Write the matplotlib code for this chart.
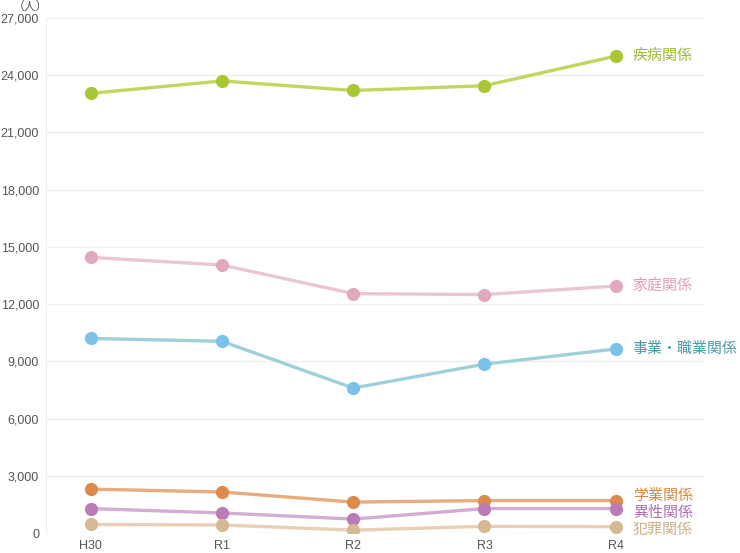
import numpy as np
import matplotlib.pyplot as plt
from matplotlib.ticker import FuncFormatter

plt.rcParams['font.family'] = ['Noto Sans CJK JP', 'DejaVu Sans']

# データ (人)
years = ['H30', 'R1', 'R2', 'R3', 'R4']
shippei = [23050, 23700, 23200, 23450, 25000]      # 疾病関係
katei = [14450, 14050, 12550, 12500, 12950]        # 家庭関係
jigyo = [10200, 10050, 7600, 8850, 9650]           # 事業・職業関係
gakugyo = [2300, 2150, 1620, 1700, 1700]           # 学業関係
isei = [1280, 1050, 730, 1280, 1280]               # 異性関係
hanzai = [450, 420, 150, 350, 330]                 # 犯罪関係

series = [
    ('疾病関係', shippei, '#c2d65e', '#a9c734', '#9cba35', 0),
    ('家庭関係', katei, '#e9c6d3', '#e1a9c0', '#df9fba', 0),
    ('事業・職業関係', jigyo, '#9fd0da', '#7cc2e8', '#4a9aa6', 0),
    ('学業関係', gakugyo, '#e9ab7e', '#dc8b4c', '#d9893f', 5),
    ('異性関係', isei, '#d3acd3', '#b97cb8', '#b06fb0', -4),
    ('犯罪関係', hanzai, '#e9d0b4', '#d5b994', '#ccb08a', -3),
]

fig = plt.figure(figsize=(7.4, 5.53), dpi=100)
ax = fig.add_axes([46 / 740, 20 / 553, 659 / 740, 515 / 553])

x = np.arange(len(years))
for name, vals, lc, mc, tc, dy in series:
    ax.plot(x, vals, color=lc, linewidth=2.4, zorder=2)
    ax.plot(x, vals, linestyle='none', marker='o', markersize=8.5,
            color=mc, zorder=3)
    ax.annotate(name, xy=(x[-1], vals[-1]), xytext=(17, dy),
                textcoords='offset pixels', ha='left', va='center',
                fontsize=10.8, color=tc, annotation_clip=False)

ax.set_xlim(-0.34, 4.68)
ax.set_ylim(0, 27000)
ax.set_yticks(np.arange(0, 27001, 3000))
ax.yaxis.set_major_formatter(FuncFormatter(lambda v, p: f'{int(v):,}'))
ax.set_xticks(x)
ax.set_xticklabels(years)
ax.tick_params(axis='both', length=0, labelsize=9, colors='#555555')
ax.tick_params(axis='y', pad=5)
ax.tick_params(axis='x', pad=5)
for lab in ax.get_xticklabels() + ax.get_yticklabels():
    lab.set_family(['Liberation Sans', 'DejaVu Sans'])

ax.grid(axis='y', color='#eeeeee', linewidth=1)
ax.set_axisbelow(True)
for s in ['top', 'right', 'bottom']:
    ax.spines[s].set_visible(False)
ax.spines['left'].set_color('#eeeeee')

fig.text(30 / 740, 1 - 6 / 553, '（人）', fontsize=8.5, color='#555555',
         ha='center', va='center')

fig.savefig('out.png', dpi=100)
